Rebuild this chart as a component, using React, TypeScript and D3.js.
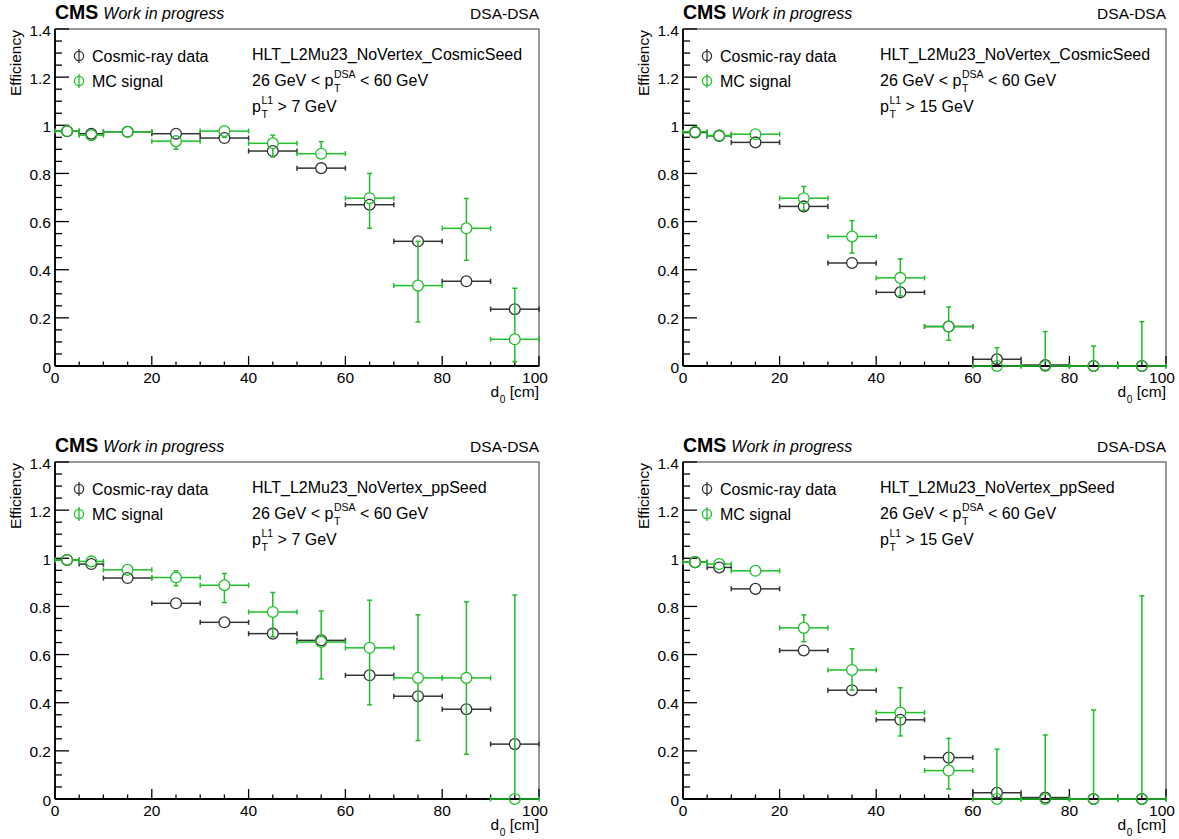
import React, { useEffect, useRef } from "react";
import * as d3 from "d3";

// ---- data ----
const BIN_EDGES = [0, 5, 10, 20, 30, 40, 50, 60, 70, 80, 90, 100];
const Y_TICKS = [0, 0.2, 0.4, 0.6, 0.8, 1.0, 1.2, 1.4];
const Y_TICK_LABELS = ["0", "0.2", "0.4", "0.6", "0.8", "1", "1.2", "1.4"];
const X_TICKS = [0, 20, 40, 60, 80, 100];
const X_TICK_LABELS = ["0", "20", "40", "60", "80", "100"];
const LEGEND_LABELS = ["Cosmic-ray data", "MC signal"];
const TRIGGERS = [
  "HLT_L2Mu23_NoVertex_CosmicSeed",
  "HLT_L2Mu23_NoVertex_CosmicSeed",
  "HLT_L2Mu23_NoVertex_ppSeed",
  "HLT_L2Mu23_NoVertex_ppSeed",
];
const L1_CUTS = ["7", "15", "7", "15"];

// panel 1: CosmicSeed, pT L1 > 7
const p1Data = [0.975, 0.965, 0.973, 0.965, 0.947, 0.893, 0.822, 0.67, 0.518, 0.352, 0.236];
const p1DataErr = [0.004, 0.006, 0.006, 0.008, 0.01, 0.012, 0.015, 0.018, 0.02, 0.02, 0.02];
const p1MC = [0.976, 0.959, 0.973, 0.934, 0.976, 0.925, 0.882, 0.697, 0.334, 0.572, 0.111];
const p1MCHi = [0.005, 0.008, 0.006, 0.02, 0.01, 0.034, 0.05, 0.103, 0.184, 0.124, 0.212];
const p1MCLo = [0.005, 0.008, 0.006, 0.033, 0.026, 0.057, 0.02, 0.125, 0.151, 0.133, 0.093];

// panel 2: CosmicSeed, pT L1 > 15
const p2Data = [0.97, 0.956, 0.929, 0.663, 0.428, 0.306, 0.164, 0.028, 0.004, 0, 0];
const p2DataErr = [0.004, 0.006, 0.008, 0.012, 0.015, 0.015, 0.015, 0.01, 0.004, 0, 0];
const p2MC = [0.973, 0.958, 0.963, 0.697, 0.538, 0.366, 0.164, 0, 0, 0, 0];
const p2MCHi = [0.005, 0.008, 0.01, 0.049, 0.066, 0.079, 0.081, 0.076, 0.143, 0.083, 0.184];
const p2MCLo = [0.005, 0.008, 0.01, 0.05, 0.069, 0.075, 0.057, 0, 0, 0, 0];

// panel 3: ppSeed, pT L1 > 7
const p3Data = [0.993, 0.976, 0.918, 0.813, 0.734, 0.687, 0.659, 0.514, 0.427, 0.373, 0.228];
const p3DataErr = [0.003, 0.005, 0.007, 0.01, 0.012, 0.014, 0.015, 0.018, 0.02, 0.02, 0.02];
const p3MC = [0.993, 0.987, 0.952, 0.92, 0.888, 0.777, 0.652, 0.628, 0.503, 0.503, 0];
const p3MCHi = [0.003, 0.006, 0.01, 0.028, 0.049, 0.081, 0.129, 0.198, 0.262, 0.316, 0.847];
const p3MCLo = [0.005, 0.008, 0.01, 0.034, 0.072, 0.103, 0.153, 0.237, 0.26, 0.317, 0];

// panel 4: ppSeed, pT L1 > 15
const p4Data = [0.984, 0.962, 0.873, 0.617, 0.452, 0.329, 0.172, 0.026, 0.006, 0, 0];
const p4DataErr = [0.004, 0.006, 0.008, 0.012, 0.015, 0.015, 0.015, 0.01, 0.005, 0, 0];
const p4MC = [0.984, 0.976, 0.948, 0.711, 0.536, 0.359, 0.118, 0, 0, 0, 0];
const p4MCHi = [0.005, 0.008, 0.01, 0.054, 0.088, 0.103, 0.134, 0.207, 0.266, 0.37, 0.844];
const p4MCLo = [0.005, 0.008, 0.01, 0.058, 0.083, 0.097, 0.076, 0, 0, 0, 0];

const PANELS = [
  { data: p1Data, dataErr: p1DataErr, mc: p1MC, mcHi: p1MCHi, mcLo: p1MCLo },
  { data: p2Data, dataErr: p2DataErr, mc: p2MC, mcHi: p2MCHi, mcLo: p2MCLo },
  { data: p3Data, dataErr: p3DataErr, mc: p3MC, mcHi: p3MCHi, mcLo: p3MCLo },
  { data: p4Data, dataErr: p4DataErr, mc: p4MC, mcHi: p4MCHi, mcLo: p4MCLo },
];

// ---- layout / style ----
const W = 1179;
const H = 839;
const FRAMES = [
  { x0: 55, x1: 539, y0: 29, y1: 366 },
  { x0: 683, x1: 1166, y0: 29, y1: 366 },
  { x0: 55, x1: 539, y0: 462, y1: 799 },
  { x0: 683, x1: 1166, y0: 462, y1: 799 },
];
const FONT = "'Liberation Sans', Arial, Helvetica, sans-serif";
const GREEN = "#1fbf2b";
const BLACK = "#333333";
const R = 5.4;

type Seg = { text: string } | { sub: string; sup: string };

function latex(
  g: any,
  x: number,
  y: number,
  segs: Seg[],
  size: number,
  anchorEnd = false,
  color = "#000"
) {
  const grp = g.append("g").attr("fill", color).attr("font-family", FONT);
  let cx = 0;
  for (const s of segs) {
    if ("text" in s) {
      const t = grp
        .append("text")
        .attr("x", cx)
        .attr("y", 0)
        .attr("font-size", size)
        .style("white-space", "pre")
        .text(s.text);
      cx += (t.node() as SVGTextElement).getComputedTextLength();
    } else {
      const small = size * 0.66;
      let w = 0;
      if (s.sup) {
        const t = grp
          .append("text")
          .attr("x", cx + 0.5)
          .attr("y", -size * 0.5)
          .attr("font-size", small)
          .text(s.sup);
        w = Math.max(w, (t.node() as SVGTextElement).getComputedTextLength() + 0.5);
      }
      if (s.sub) {
        const t = grp
          .append("text")
          .attr("x", cx + 0.5)
          .attr("y", size * 0.38)
          .attr("font-size", small)
          .text(s.sub);
        w = Math.max(w, (t.node() as SVGTextElement).getComputedTextLength() + 0.5);
      }
      cx += w;
    }
  }
  grp.attr("transform", `translate(${anchorEnd ? x - cx : x},${y})`);
}

function drawSeries(
  g: any,
  x: any,
  y: any,
  vals: number[],
  lo: number[],
  hi: number[],
  color: string
) {
  const cap = 2.5;
  vals.forEach((v, i) => {
    const xl = x(BIN_EDGES[i]);
    const xr = x(BIN_EDGES[i + 1]);
    const cxv = (xl + xr) / 2;
    const cy = y(v);
    const s = g.append("g").attr("stroke", color).attr("stroke-width", 1.5).attr("fill", "none");
    s.append("line").attr("x1", xl).attr("x2", cxv - R).attr("y1", cy).attr("y2", cy);
    s.append("line").attr("x1", cxv + R).attr("x2", xr).attr("y1", cy).attr("y2", cy);
    s.append("line").attr("x1", xl).attr("x2", xl).attr("y1", cy - cap).attr("y2", cy + cap);
    s.append("line").attr("x1", xr).attr("x2", xr).attr("y1", cy - cap).attr("y2", cy + cap);
    const yt = y(v + hi[i]);
    const yb = y(v - lo[i]);
    if (cy - yt > R + 0.5) {
      s.append("line").attr("x1", cxv).attr("x2", cxv).attr("y1", cy - R).attr("y2", yt);
      s.append("line").attr("x1", cxv - cap).attr("x2", cxv + cap).attr("y1", yt).attr("y2", yt);
    }
    if (yb - cy > R + 0.5) {
      s.append("line").attr("x1", cxv).attr("x2", cxv).attr("y1", cy + R).attr("y2", yb);
      s.append("line").attr("x1", cxv - cap).attr("x2", cxv + cap).attr("y1", yb).attr("y2", yb);
    }
    s.append("circle").attr("cx", cxv).attr("cy", cy).attr("r", R).attr("stroke-width", 1.3);
  });
}

function drawPanel(svg: any, idx: number) {
  const f = FRAMES[idx];
  const p = PANELS[idx];
  const x = d3.scaleLinear().domain([0, 100]).range([f.x0, f.x1]);
  const y = d3.scaleLinear().domain([0, 1.4]).range([f.y1, f.y0]);
  const g = svg.append("g");

  g.append("rect")
    .attr("x", f.x0)
    .attr("y", f.y0)
    .attr("width", f.x1 - f.x0)
    .attr("height", f.y1 - f.y0)
    .attr("fill", "none")
    .attr("stroke", "#555")
    .attr("stroke-width", 1.2);

  const yMinor = d3.range(0, 1.4001, 0.05);
  yMinor.forEach((t) => {
    const isMajor = Math.abs(t / 0.2 - Math.round(t / 0.2)) < 1e-6;
    const len = isMajor ? 14 : 7;
    g.append("line")
      .attr("x1", f.x0)
      .attr("x2", f.x0 + len)
      .attr("y1", y(t))
      .attr("y2", y(t))
      .attr("stroke", "#000")
      .attr("stroke-width", 1.3);
  });
  const xMinor = d3.range(0, 100.001, 5);
  xMinor.forEach((t) => {
    const isMajor = t % 20 === 0;
    const len = isMajor ? 10 : 4.5;
    g.append("line")
      .attr("x1", x(t))
      .attr("x2", x(t))
      .attr("y1", f.y1)
      .attr("y2", f.y1 - len)
      .attr("stroke", "#000")
      .attr("stroke-width", 1.3);
  });
  g.append("line").attr("x1", f.x0).attr("x2", f.x0).attr("y1", f.y0).attr("y2", f.y1).attr("stroke", "#000").attr("stroke-width", 1.8);
  g.append("line").attr("x1", f.x0).attr("x2", f.x1).attr("y1", f.y1).attr("y2", f.y1).attr("stroke", "#000").attr("stroke-width", 1.8);

  Y_TICKS.forEach((t, i) => {
    g.append("text")
      .attr("x", f.x0 - 4)
      .attr("y", y(t) + 6.5)
      .attr("text-anchor", "end")
      .attr("font-family", FONT)
      .attr("font-size", 15.5)
      .text(Y_TICK_LABELS[i]);
  });
  X_TICKS.forEach((t, i) => {
    g.append("text")
      .attr("x", x(t) - (i === X_TICKS.length - 1 ? 4 : 0))
      .attr("y", f.y1 + 17)
      .attr("text-anchor", "middle")
      .attr("font-family", FONT)
      .attr("font-size", 15.5)
      .text(X_TICK_LABELS[i]);
  });

  g.append("text")
    .attr("transform", `translate(${f.x0 - 34},${f.y0 + 1}) rotate(-90)`)
    .attr("text-anchor", "end")
    .attr("font-family", FONT)
    .attr("font-size", 15.5)
    .text("Efficiency");
  latex(g, f.x1, f.y1 + 31, [{ text: "d" }, { sub: "0", sup: "" }, { text: " [cm]" }], 15.5, true);

  const hdr = g.append("text").attr("x", f.x0).attr("y", f.y0 - 10).attr("font-family", FONT);
  hdr.append("tspan").attr("font-weight", "bold").attr("font-size", 19.5).text("CMS");
  hdr.append("tspan").attr("font-style", "italic").attr("font-size", 16).attr("dx", 5).text("Work in progress");
  g.append("text")
    .attr("x", f.x1)
    .attr("y", f.y0 - 10)
    .attr("text-anchor", "end")
    .attr("font-family", FONT)
    .attr("font-size", 15.5)
    .text("DSA-DSA");

  const legendColors = [BLACK, GREEN];
  LEGEND_LABELS.forEach((lab, i) => {
    const ly = f.y0 + 27 + i * 25;
    const lx = f.x0 + 24;
    const lg = g.append("g").attr("stroke", legendColors[i]).attr("fill", "none");
    lg.append("circle").attr("cx", lx).attr("cy", ly).attr("r", 4.6).attr("stroke-width", 1.3);
    lg.append("line").attr("x1", lx).attr("x2", lx).attr("y1", ly - 7).attr("y2", ly + 7).attr("stroke-width", 1.3);
    g.append("text")
      .attr("x", f.x0 + 37)
      .attr("y", ly + 5.5)
      .attr("font-family", FONT)
      .attr("font-size", 16)
      .text(lab);
  });

  const tx = f.x0 + 197;
  g.append("text").attr("x", tx).attr("y", f.y0 + 31).attr("font-family", FONT).attr("font-size", 16).text(TRIGGERS[idx]);
  latex(g, tx, f.y0 + 57, [{ text: "26 GeV < p" }, { sub: "T", sup: "DSA" }, { text: " < 60 GeV" }], 16);
  latex(g, tx, f.y0 + 83, [{ text: "p" }, { sub: "T", sup: "L1" }, { text: ` > ${L1_CUTS[idx]} GeV` }], 16);

  drawSeries(g, x, y, p.data, p.dataErr, p.dataErr, BLACK);
  drawSeries(g, x, y, p.mc, p.mcLo, p.mcHi, GREEN);
}

export default function App() {
  const ref = useRef<SVGSVGElement | null>(null);
  useEffect(() => {
    const svg = d3.select(ref.current);
    svg.selectAll("*").remove();
    svg.append("rect").attr("width", W).attr("height", H).attr("fill", "#fff");
    for (let i = 0; i < 4; i++) drawPanel(svg, i);
  }, []);
  return (
    <svg
      ref={ref}
      width={W}
      height={H}
      style={{ position: "absolute", left: 0, top: 0, display: "block" }}
    />
  );
}
